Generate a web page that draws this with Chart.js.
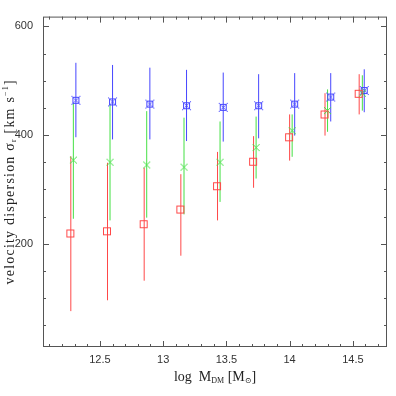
<!DOCTYPE html>
<html>
<head>
<meta charset="utf-8">
<script src="https://cdn.jsdelivr.net/npm/chart.js@4"></script>
<style>
  body { margin: 0; background: #fff; }
  #wrap { width: 396px; height: 396px; }
</style>
</head>
<body>
<div id="wrap"><canvas id="sigmaChart" width="396" height="396"></canvas></div>
<script>
// log halo mass bins and velocity dispersions
const xRed = [12.27, 12.56, 12.85, 13.14, 13.43, 13.715, 14.0, 14.28, 14.55];
const yRed = [218, 222, 235, 262, 305, 350, 395, 437, 475];
const redLo = [76, 96, 132, 178, 243, 303, 353, 399, 438];
const redHi = [361, 349, 340, 328, 369, 398, 438, 477, 512];

const xGreen = [12.29, 12.58, 12.87, 13.165, 13.45, 13.735, 14.02, 14.30, 14.575];
const yGreen = [354, 350, 345, 341, 350, 377, 408, 445, 477];
const greenLo = [246, 243, 248, 254, 277, 320, 360, 406, 445];
const greenHi = [459, 456, 444, 432, 425, 434, 438, 484, 510];

const xBlue = [12.31, 12.60, 12.895, 13.185, 13.475, 13.755, 14.04, 14.325, 14.59];
const yBlue = [464, 461, 457, 454, 451, 454, 457, 470, 482];
const blueLo = [396, 392, 392, 389, 388, 394, 399, 425, 442];
const blueHi = [533, 529, 524, 520, 515, 512, 514, 514, 521];

const xTickLabels = [12.5, 13, 13.5, 14, 14.5];
const yTickLabels = [200, 400, 600];

const RED = '#ff4848';
const GREEN = '#44e044';
const BLUE = '#4646ff';

// small canvases used as point styles
function makeMarker(kind, color) {
    const c = document.createElement('canvas');
    c.width = 11; c.height = 11;
    const g = c.getContext('2d');
    g.strokeStyle = color;
    g.lineWidth = 1;
    if (kind === 'square') {
        g.strokeRect(1.5, 1.5, 7, 7);
    } else if (kind === 'cross') {
        g.beginPath();
        g.moveTo(2, 2); g.lineTo(9, 9);
        g.moveTo(9, 2); g.lineTo(2, 9);
        g.stroke();
    } else {
        // blue: box with an x over it
        g.strokeRect(2.5, 2.5, 6, 6);
        g.beginPath();
        g.moveTo(1, 1); g.lineTo(3, 3);
        g.moveTo(10, 1); g.lineTo(8, 3);
        g.moveTo(1, 10); g.lineTo(3, 8);
        g.moveTo(10, 10); g.lineTo(8, 8);
        g.moveTo(3.5, 3.5); g.lineTo(7.5, 7.5);
        g.moveTo(7.5, 3.5); g.lineTo(3.5, 7.5);
        g.stroke();
    }
    return c;
}

function toPoints(xs, ys) {
    return xs.map((x, i) => ({ x: x, y: ys[i] }));
}

// error bars, drawn under the markers
const errorBars = {
    id: 'errorBars',
    beforeDatasetsDraw(chart) {
        const ctx = chart.ctx;
        const xs = chart.scales.x, ys = chart.scales.y;
        const sets = [
            [xRed, redLo, redHi, RED],
            [xGreen, greenLo, greenHi, GREEN],
            [xBlue, blueLo, blueHi, BLUE]
        ];
        ctx.save();
        ctx.lineWidth = 1;
        sets.forEach(([xv, lo, hi, col]) => {
            ctx.strokeStyle = col;
            xv.forEach((x, i) => {
                const px = xs.getPixelForValue(x);
                ctx.beginPath();
                ctx.moveTo(px, ys.getPixelForValue(lo[i]));
                ctx.lineTo(px, ys.getPixelForValue(hi[i]));
                ctx.stroke();
            });
        });
        ctx.restore();
    }
};

// boxed frame with inward ticks on all four sides
const frameTicks = {
    id: 'frameTicks',
    afterDraw(chart) {
        const ctx = chart.ctx;
        const a = chart.chartArea;
        const xs = chart.scales.x, ys = chart.scales.y;
        ctx.save();
        ctx.strokeStyle = '#555';
        ctx.lineWidth = 1;
        ctx.strokeRect(a.left + 0.5, a.top + 0.5, a.right - a.left - 1, a.bottom - a.top - 1);
        ctx.beginPath();
        for (let v = 12.1; v < xs.max; v += 0.1) {
            const major = xTickLabels.some(t => Math.abs(t - v) < 1e-6);
            const len = major ? 6 : 3;
            const px = Math.round(xs.getPixelForValue(v)) + 0.5;
            ctx.moveTo(px, a.bottom); ctx.lineTo(px, a.bottom - len);
            ctx.moveTo(px, a.top); ctx.lineTo(px, a.top + len);
        }
        for (let v = 50; v < ys.max; v += 50) {
            const major = yTickLabels.includes(v);
            const len = major ? 6 : 3;
            const py = Math.round(ys.getPixelForValue(v)) + 0.5;
            ctx.moveTo(a.left, py); ctx.lineTo(a.left + len, py);
            ctx.moveTo(a.right, py); ctx.lineTo(a.right - len, py);
        }
        ctx.stroke();
        ctx.restore();

        // axis titles with sub/superscripts
        drawRich(ctx, [
            ['log  M', 0], ['DM', -1], [' [M', 0], ['\u2299', -1], [']', 0]
        ], (a.left + a.right) / 2, 377, false, 0);
        drawRich(ctx, [
            ['velocity dispersion \u03c3', 0], ['r', -1], [' [km s', 0], ['\u22121', 1], [']', 0]
        ], 10, (a.top + a.bottom) / 2, true, 1.2);
    }
};

function drawRich(ctx, parts, cx, cy, rotated, spacing) {
    const big = '14px "Liberation Serif", "DejaVu Serif", serif';
    const small = '8px "Liberation Serif", "DejaVu Serif", serif';
    ctx.save();
    ctx.letterSpacing = spacing + 'px';
    let total = 0;
    parts.forEach(p => {
        ctx.font = p[1] === 0 ? big : small;
        total += ctx.measureText(p[0]).width;
    });
    ctx.translate(cx, cy);
    if (rotated) ctx.rotate(-Math.PI / 2);
    ctx.fillStyle = '#222';
    ctx.textBaseline = 'middle';
    let x = -total / 2;
    parts.forEach(p => {
        ctx.font = p[1] === 0 ? big : small;
        const dy = p[1] === 0 ? 0 : (p[1] < 0 ? 4 : -4);
        ctx.fillText(p[0], x, dy);
        x += ctx.measureText(p[0]).width;
    });
    ctx.restore();
}

const tickFont = { family: '"Liberation Sans", Arial, sans-serif', size: 11 };

new Chart(document.getElementById('sigmaChart').getContext('2d'), {
    type: 'scatter',
    data: {
        datasets: [
            { data: toPoints(xRed, yRed), pointStyle: makeMarker('square', RED) },
            { data: toPoints(xGreen, yGreen), pointStyle: makeMarker('cross', GREEN) },
            { data: toPoints(xBlue, yBlue), pointStyle: makeMarker('boxx', BLUE) }
        ]
    },
    options: {
        responsive: false,
        animation: false,
        events: [],
        layout: { padding: { top: 10, right: 9, left: 0, bottom: 0 } },
        plugins: { legend: { display: false }, tooltip: { enabled: false } },
        scales: {
            x: {
                type: 'linear',
                min: 12.05,
                max: 14.77,
                grid: { display: false, drawTicks: false },
                border: { display: false },
                afterBuildTicks: s => { s.ticks = xTickLabels.map(v => ({ value: v })); },
                afterFit: s => { s.height = 49; },
                ticks: {
                    font: tickFont, color: '#333', padding: 6, maxRotation: 0,
                    callback: v => String(v)
                }
            },
            y: {
                type: 'linear',
                min: 10,
                max: 618,
                grid: { display: false, drawTicks: false },
                border: { display: false },
                afterBuildTicks: s => { s.ticks = yTickLabels.map(v => ({ value: v })); },
                afterFit: s => { s.width = 43; },
                ticks: { font: tickFont, color: '#333', padding: 10 }
            }
        }
    },
    plugins: [errorBars, frameTicks]
});
</script>
</body>
</html>
